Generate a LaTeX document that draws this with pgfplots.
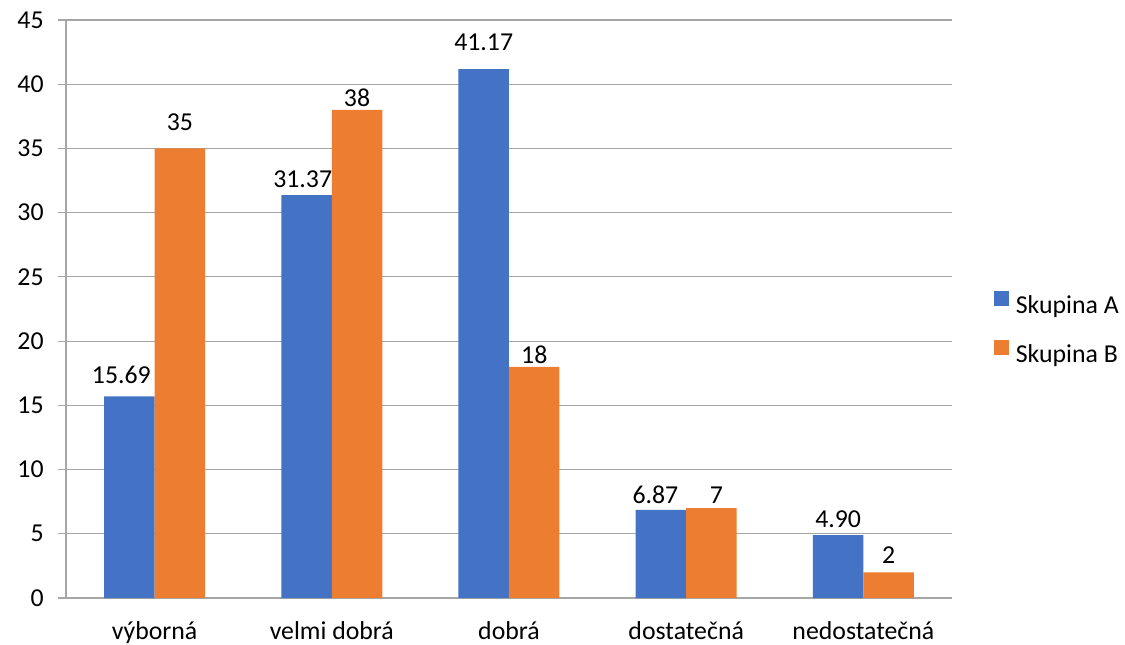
\documentclass[border=0pt]{standalone}
\usepackage{pgfplots}
\pgfplotsset{compat=1.18}
\usepackage{pgfplotstable}
\usepackage{fontspec}
\setmainfont{Carlito}

\definecolor{barA}{HTML}{4472C4}
\definecolor{barB}{HTML}{ED7D31}
\definecolor{gridgray}{HTML}{A6A6A6}
\newcommand{\chartfont}{\fontsize{12.9}{15}\selectfont}

% value, printed label, and label offsets (pt) for each category
\pgfplotstableread{
x y     label dx    dy
0 15.69 15.69 -4.0  6.3
1 31.37 31.37 -1.9  4.0
2 41.17 41.17 0     9.3
3 6.87  6.87  -2.75 3.3
4 4.90  4.90  0     4.0
}\tblA
\pgfplotstableread{
x y  label dx  dy
0 35 35    0   9.2
1 38 38    0   1.6
2 18 18    0   1.5
3 7  7     2.5 2.3
4 2  2     0   4.5
}\tblB

\pgfplotsset{
  labelled bars/.style={
    nodes near coords,
    point meta=explicit symbolic,
    visualization depends on={\thisrow{dx} \as \dx},
    visualization depends on={\thisrow{dy} \as \dy},
    every node near coord/.append style={anchor=base, inner sep=0pt,
      font=\chartfont, text=black, xshift=\dx pt, yshift=\dy pt},
  },
}

\begin{document}
\begin{tikzpicture}
\useasboundingbox (0,0) rectangle (562.5pt,322pt);
\begin{axis}[
  at={(33pt,23pt)}, anchor=south west,
  scale only axis,
  width=443pt, height=289pt,
  ybar=0pt, bar width=0.285,
  xmin=-0.5, xmax=4.5,
  ymin=0, ymax=45,
  xtick={0,...,4},
  xticklabels={výborná, velmi dobrá, dobrá, dostatečná, nedostatečná},
  ytick={0,5,...,45},
  extra x ticks={-0.5,0.5,...,4.5},
  extra x tick labels={},
  extra x tick style={grid=none, major tick length=4pt,
    tick style={draw=gridgray, line width=0.6pt}},
  x tick style={draw=none},
  y tick style={draw=gridgray, line width=0.6pt},
  tick align=outside,
  major tick length=4pt,
  axis x line*=bottom, axis y line*=left,
  axis line style={draw=gridgray, line width=0.6pt},
  ymajorgrids,
  grid style={draw=gridgray, line width=0.6pt},
  tick label style={font=\chartfont, text=black},
  /pgf/number format/assume math mode=true,
  yticklabel style={anchor=east, inner sep=0pt, xshift=-7pt},
  xticklabel style={anchor=base, inner sep=0pt, yshift=-16.6pt},
  legend style={draw=none, fill=none, font=\chartfont,
    at={(1.0398,0.4663)}, anchor=west,
    nodes={inner sep=0pt}, column sep=3.6pt, row sep=12pt},
  legend cell align=left,
  legend image code/.code={\fill[#1, draw=none] (0pt,0pt) rectangle (7.5pt,7.5pt);},
]
\addplot[fill=barA, draw=none, labelled bars] table[x=x, y=y, meta=label] {\tblA};
\addplot[fill=barB, draw=none, labelled bars] table[x=x, y=y, meta=label] {\tblB};
\legend{Skupina A, Skupina B}
\end{axis}
\end{tikzpicture}
\end{document}
